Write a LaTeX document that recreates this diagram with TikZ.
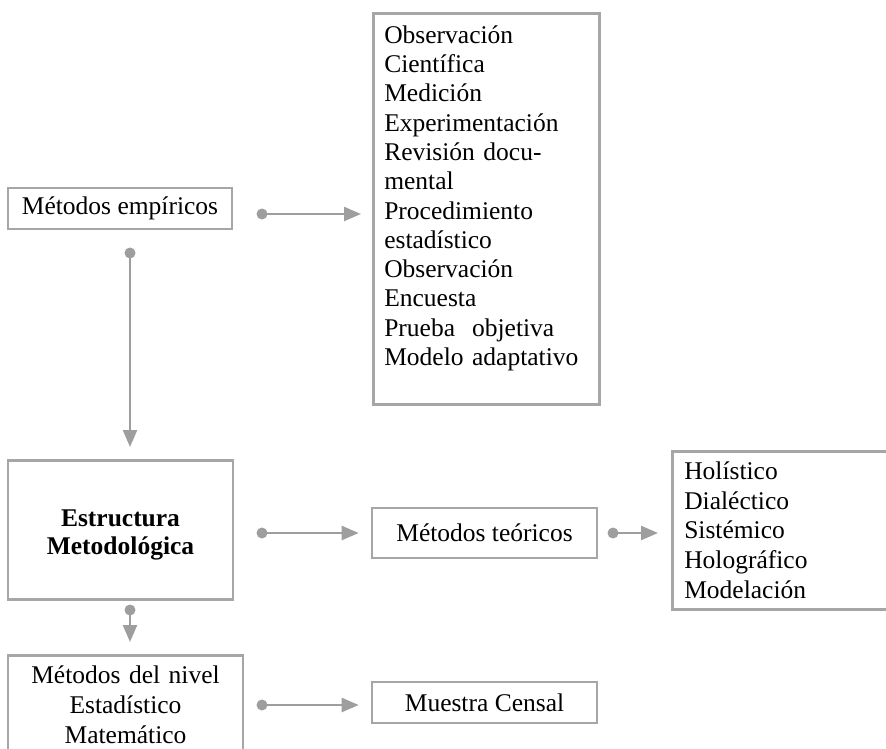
\documentclass[tikz,border=0pt]{standalone}
\usepackage{fontspec}
\setmainfont{Liberation Serif}
\usetikzlibrary{arrows.meta}
\definecolor{boxgray}{RGB}{166,166,166}
\definecolor{arrowgray}{RGB}{158,158,158}
\tikzset{
  box/.style={draw=boxgray, line width=2.6pt, inner sep=0pt,
    font=\fontsize{25.5}{30}\selectfont},
  listbox/.style={box, anchor=north west, align=left, inner ysep=0pt},
  conn/.style={draw=arrowgray, line width=2.4pt,
    -{Triangle[length=17pt,width=14pt]}},
  dot/.style={circle, fill=arrowgray, inner sep=0pt, minimum size=11pt},
}
\begin{document}
\begin{tikzpicture}[x=1pt,y=-1pt]
  \useasboundingbox (0,0) rectangle (886,749);
  \clip (0,0) rectangle (886,749);

  % boxes
  \node[box, minimum width=224pt, minimum height=41pt] (emp) at (120,208.5)
    {Métodos empíricos};
  \node[listbox, inner xsep=11pt, text width=204pt, text height=30pt,
        text depth=361pt, font=\fontsize{25.5}{29.3}\selectfont]
    (emplist) at (372,12)
    {Observación\\ Científica\\ Medición\\ Experimentación\\
     Revisión docu-\\ mental\\ Procedimiento\\ estadístico\\
     Observación\\ Encuesta\\ Prueba\ \ objetiva\\ Modelo adaptativo};
  \node[box, anchor=north, inner xsep=12pt, inner ysep=0pt, text width=201pt,
        align=center, text height=66pt, text depth=73pt,
        font=\fontsize{25.5}{28}\selectfont\bfseries] (est) at (120.5,459)
    {Estructura\\ Metodológica};
  \node[box, minimum width=225pt, minimum height=50pt] (teo) at (484.5,533)
    {Métodos teóricos};
  \node[listbox, inner xsep=12pt, text width=205pt, text height=28pt,
        text depth=130pt, font=\fontsize{25.5}{29.75}\selectfont]
    (teolist) at (671,450)
    {Holístico\\ Dialéctico\\ Sistémico\\ Holográfico\\ Modelación};
  \node[box, anchor=north, inner xsep=12pt, inner ysep=0pt, text width=211pt,
        align=center, text height=28pt, text depth=120pt] (niv) at (125.5,654)
    {Métodos del nivel\\ Estadístico\\ Matemático};
  \node[box, minimum width=225pt, minimum height=41pt] (mue) at (484.5,702.5)
    {Muestra Censal};

  % connector start points
  \node[dot] (d1) at (262,214) {};
  \node[dot] (d2) at (130,253) {};
  \node[dot] (d3) at (262,533) {};
  \node[dot] (d4) at (613,533) {};
  \node[dot] (d5) at (130,610) {};
  \node[dot] (d6) at (262,705) {};

  % connectors
  \draw[conn, shorten >=11pt] (d1.center) -- (d1 -| emplist.west);
  \draw[conn, shorten >=12pt] (d2.center) -- (d2 |- est.north);
  \draw[conn, shorten >=12pt] (d3.center) -- (d3 -| teo.west);
  \draw[conn, shorten >=13pt] (d4.center) -- (d4 -| teolist.west);
  \draw[conn, shorten >=12pt] (d5.center) -- (d5 |- niv.north);
  \draw[conn, shorten >=12pt] (d6.center) -- (d6 -| mue.west);
\end{tikzpicture}
\end{document}
